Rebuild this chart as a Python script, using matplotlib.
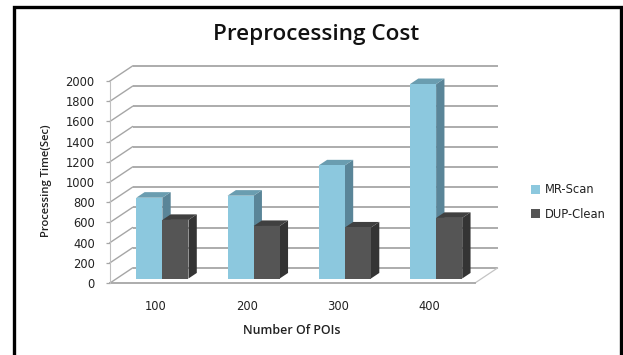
import matplotlib
matplotlib.use("Agg")
import matplotlib.pyplot as plt
from matplotlib.lines import Line2D
from matplotlib.patches import Patch, Polygon

W, H = 623, 355

categories = ["100", "200", "300", "400"]
mr_scan = [800, 820, 1120, 1925]
dup_clean = [580, 520, 505, 600]
y_ticks = list(range(0, 2001, 200))
series_names = ["MR-Scan", "DUP-Clean"]

LIGHT = ("#8CC8DE", "#5A8598", "#6A9DB0")
DARK = ("#555555", "#343434", "#404040")
GRID = "#a6a6a6"


def fx(px):
    return px / W


def fy(py):
    return 1 - py / H


fig = plt.figure(figsize=(W / 100, H / 100), dpi=100, facecolor="white")
L, R, T, B = 110, 475, 81, 283
ax = fig.add_axes([fx(L), fy(B), (R - L) / W, (B - T) / H])
ax.set_xlim(0, len(categories))
ax.set_ylim(0, 2000)
ax.patch.set_visible(False)

# Depth of the box expressed in data units
unit_x = (R - L) / len(categories)
unit_y = (B - T) / 2000
DX = 22.5 / unit_x
DY = 15 / unit_y


def project(x, y, depth):
    return (x + DX * depth, y + DY * depth)


# Back wall and left wall gridlines
for v in y_ticks:
    ax.plot(*zip(project(0, v, 1), project(4, v, 1)), color=GRID, lw=1.3,
            clip_on=False, zorder=1, solid_capstyle="butt")
    ax.plot(*zip(project(0, v, 0), project(0, v, 1)), color=GRID, lw=1.0,
            clip_on=False, zorder=1)

# Floor outline
ax.plot(*zip(project(4, 0, 0), project(4, 0, 1)), color="#c4c4c4", lw=0.9,
        clip_on=False, zorder=1)
ax.plot([0, 4], [0, 0], color=GRID, lw=1.3, clip_on=False, zorder=1)

GROUP = 0.572
D0, D1 = 0.3, 0.67


def draw_bar(x0, width, value, faces, z):
    front, side, top = faces
    x1 = x0 + width
    ax.add_patch(Polygon([project(x1, 0, D0), project(x1, 0, D1),
                          project(x1, value, D1), project(x1, value, D0)],
                         closed=True, fc=side, ec="none", zorder=z, clip_on=False))
    ax.add_patch(Polygon([project(x0, value, D0), project(x1, value, D0),
                          project(x1, value, D1), project(x0, value, D1)],
                         closed=True, fc=top, ec="none", zorder=z, clip_on=False))
    ax.add_patch(Polygon([project(x0, 0, D0), project(x1, 0, D0),
                          project(x1, value, D0), project(x0, value, D0)],
                         closed=True, fc=front, ec="none", zorder=z + 0.1, clip_on=False))


for i in range(len(categories)):
    left = i + 0.5 - GROUP / 2
    draw_bar(left, GROUP / 2, mr_scan[i], LIGHT, 3 + 2 * i)
    draw_bar(left + GROUP / 2, GROUP / 2, dup_clean[i], DARK, 4 + 2 * i)

# Axes furniture
for side in ("top", "right", "bottom"):
    ax.spines[side].set_visible(False)
ax.spines["left"].set_color("#c0c0c0")
ax.spines["left"].set_linewidth(0.8)
ax.set_yticks(y_ticks)
ax.set_yticklabels([str(v) for v in y_ticks], fontsize=8.3, family="DejaVu Sans",
                   color="#222222")
ax.tick_params(axis="y", length=3, width=0.9, color=GRID, pad=8)
ax.set_xticks([i + 0.5 for i in range(len(categories))])
ax.set_xticklabels(categories, fontsize=8.3, family="DejaVu Sans", color="#222222")
ax.tick_params(axis="x", length=0, pad=12.5)

fig.text(fx(316), fy(32), "Preprocessing Cost", ha="center", va="center_baseline",
         fontsize=16.2, family="Open Sans", fontweight="semibold", color="#111111")
fig.text(fx(292), fy(331), "Number Of POIs", ha="center", va="center",
         fontsize=8.9, family="Open Sans", fontweight="semibold", color="#222222")
fig.text(fx(47), fy(181), "Processing Time(Sec)", ha="center", va="center",
         rotation=90, fontsize=8.1, family="Open Sans", fontweight="semibold",
         color="#222222")

handles = [Patch(fc=LIGHT[0], ec="none"), Patch(fc=DARK[0], ec="none")]
fig.legend(handles, series_names, loc="center left",
           bbox_to_anchor=(fx(530.5), fy(202)), frameon=False,
           prop={"family": "DejaVu Sans", "size": 8.3},
           handlelength=0.85, handleheight=0.85, handletextpad=0.38,
           labelspacing=1.0, labelcolor="#222222", borderpad=0, borderaxespad=0)

# Black frame around the chart, open past the lower edge
fig.add_artist(Line2D([fx(13.7), fx(13.7), fx(620.5), fx(620.5)],
                      [fy(360), fy(6.5), fy(6.5), fy(360)],
                      color="black", lw=2.4, solid_joinstyle="miter"))

fig.savefig("out.png", dpi=100)
